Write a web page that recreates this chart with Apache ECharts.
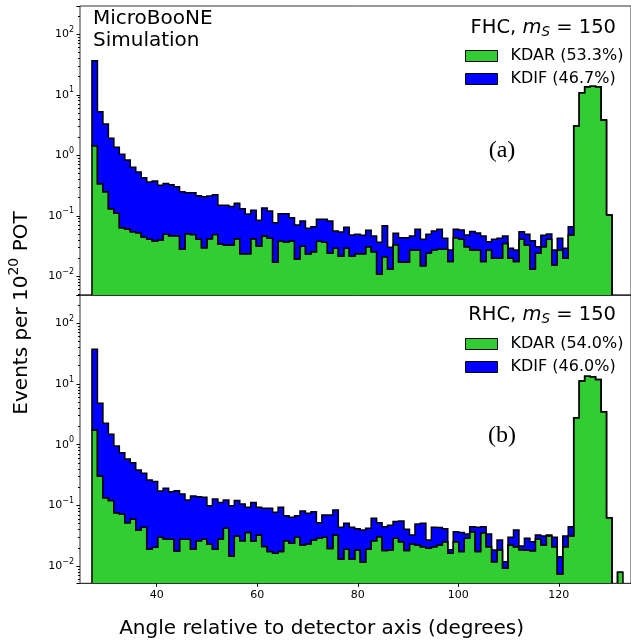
<!DOCTYPE html>
<html><head><meta charset="utf-8">
<script src="https://cdn.jsdelivr.net/npm/echarts@6/dist/echarts.min.js"></script>
<style>html,body{margin:0;padding:0;background:#fff}#c{width:631px;height:640px}</style>
</head><body><div id="c"></div>
<script>
// ---- data ----
const BIN_START = 27.12;   // degrees, left edge of first bin
const BIN_WIDTH = 1.089;   // degrees
const N_BINS = 97;
const xTicks = [40, 60, 80, 100, 120];
const fhcLabels = ['KDAR (53.3%)', 'KDIF (46.7%)'];
const rhcLabels = ['KDAR (54.0%)', 'KDIF (46.0%)'];

const fhcKDAR = [1.44,0.34,0.25,0.131,0.11,0.0635,0.0605,0.0546,0.0526,0.0447,
0.0408,0.0383,0.0398,0.0494,0.0469,0.0469,0.0279,0.0507,0.049,0.0408,
0.0297,0.0418,0.049,0.0342,0.0329,0.0329,0.0418,0.0237,0.0237,0.0418,
0.0317,0.0464,0.0425,0.017,0.0383,0.0369,0.0383,0.0193,0.0313,0.0234,
0.0255,0.038,0.0365,0.024,0.029,0.0214,0.029,0.0214,0.0237,0.0237,
0.0308,0.0255,0.0108,0.0211,0.0131,0.0333,0.0172,0.0172,0.0272,0.0272,
0.015,0.024,0.0272,0.0279,0.0279,0.0175,0.0435,0.041,0.0308,0.0272,
0.0272,0.0175,0.0272,0.0198,0.0198,0.035,0.0198,0.0175,0.0408,0.0329,
0.0131,0.024,0.0308,0.041,0.0154,0.0272,0.0198,0.0482,3.05,10.8,
13.6,13.9,13.6,3.83,0.103,0,0];
const fhcKDIF = [35.2,4.92,3.04,1.78,1.25,0.977,0.776,0.579,0.477,0.382,
0.321,0.338,0.279,0.291,0.280,0.256,0.222,0.190,0.192,0.174,
0.177,0.170,0.174,0.115,0.116,0.110,0.119,0.107,0.0833,0.0812,
0.0526,0.0886,0.0775,0.0599,0.0697,0.0711,0.0547,0.0512,0.0507,0.0387,
0.0405,0.0495,0.051,0.058,0.0271,0.0326,0.0355,0.0268,0.0257,0.0239,
0.0268,0.0209,0.0257,0.0476,0.017,0.0181,0.0263,0.0263,0.0192,0.0326,
0.0258,0.0254,0.0289,0.0319,0.0146,0.0097,0.0163,0.017,0.0174,0.0278,
0.0248,0.0289,0.0101,0.021,0.0227,0.0114,0.0092,0.0097,0.0139,0.0165,
0.0257,0.0068,0.0168,0.009,0.0118,0.0153,0.0092,0.0178,0,0,
0,0,0,0,0,0,0];
const rhcKDAR = [1.75,0.305,0.134,0.12,0.0759,0.0722,0.0519,0.0597,0.0394,0.0435,
0.0189,0.0204,0.0299,0.028,0.0277,0.0175,0.0277,0.0277,0.0189,0.0262,
0.0277,0.0229,0.0189,0.028,0.042,0.0147,0.0313,0.0262,0.0356,0.0258,
0.0325,0.021,0.0173,0.0163,0.0173,0.0262,0.0238,0.0299,0.0223,0.0231,
0.0269,0.0287,0.0299,0.0194,0.0325,0.0129,0.019,0.0129,0.0184,0.0117,
0.019,0.0262,0.0305,0.018,0.0184,0.0287,0.0252,0.018,0.0231,0.0223,
0.0209,0.0196,0.0209,0.0223,0.0252,0.0163,0.0252,0.0173,0.0287,0.0369,
0.0173,0.0355,0.0209,0.0118,0.0184,0.0092,0.0223,0.0209,0.0185,0.0184,
0.0179,0.0278,0.0223,0.0313,0.0209,0.0074,0.0209,0.0313,2.79,11.2,
13.4,13.2,11.9,3.5,0.0627,0,0.0079];
const rhcKDIF = [35.5,4.5,2.12,1.36,0.877,0.666,0.529,0.445,0.344,0.295,
0.243,0.226,0.143,0.163,0.140,0.156,0.126,0.0953,0.124,0.113,
0.108,0.076,0.108,0.083,0.081,0.0842,0.0887,0.0788,0.0574,0.0852,
0.0605,0.069,0.0722,0.0606,0.0757,0.0415,0.0399,0.0378,0.0586,0.051,
0.0518,0.0232,0.0396,0.0501,0.0514,0.0306,0.0317,0.0306,0.0229,0.0277,
0.023,0.035,0.0214,0.0266,0.0286,0.0253,0.0301,0.0224,0.0094,0.027,
0.0298,0.0073,0.0226,0.0207,0.0161,0.0022,0.0117,0.0183,0.0051,0.0077,
0.0262,0.0091,0.0129,0.0066,0.0085,0.0026,0.0076,0.0185,0.003,0.0103,
0.0073,0.0047,0.009,0.0012,0.009,0.0069,0.0104,0.0133,0,0,
0,0,0,0,0,0,0];

// ---- layout / style ----
const GREEN = '#32CD32', BLUE = '#0000FF';
const X_MIN = 24.74, X_MAX = 134.35;
const edges = [];
for (let i = 0; i <= N_BINS; i++) edges.push(BIN_START + i * BIN_WIDTH);

const panels = [
  { kdar: fhcKDAR, kdif: fhcKDIF, labels: fhcLabels, yMin: Math.pow(10, -2.309), yMax: Math.pow(10, 2.468), top: 6, height: 289, legendTop: 48 },
  { kdar: rhcKDAR, kdif: rhcKDIF, labels: rhcLabels, yMin: Math.pow(10, -2.284), yMax: Math.pow(10, 2.466), top: 295, height: 288.3, legendTop: 336 }
];

// empty bins drop far below the axis (as log-scale clipping does), then get clipped by the grid
function layerRender(base, add, yMin, color) {
  return function (params, api) {
    const lowAt = i => base ? base[i] : 0;
    const upAt = i => lowAt(i) + add[i];
    const c = v => (v > 0 ? v : yMin * 1e-3);
    const pts = [];
    for (let i = 0; i < N_BINS; i++) {
      pts.push(api.coord([edges[i], c(upAt(i))]));
      pts.push(api.coord([edges[i + 1], c(upAt(i))]));
    }
    for (let i = N_BINS - 1; i >= 0; i--) {
      pts.push(api.coord([edges[i + 1], c(lowAt(i))]));
      pts.push(api.coord([edges[i], c(lowAt(i))]));
    }
    return { type: 'polygon', shape: { points: pts },
      style: { fill: color, stroke: '#000', lineWidth: 1.5, lineJoin: 'miter' } };
  };
}

function fmtLog(v) {
  const e = Math.log10(v), r = Math.round(e);
  if (Math.abs(e - r) > 1e-6) return '';
  return '{b|10}{s|' + (r < 0 ? '\u2212' : '') + Math.abs(r) + '}';
}

const FONT = '"DejaVu Sans"';
const option = {
  animation: false,
  backgroundColor: '#fff',
  grid: panels.map(p => ({ left: 80, width: 553, top: p.top, height: p.height, show: true,
    borderColor: '#333', borderWidth: 1, backgroundColor: 'transparent', containLabel: false })),
  xAxis: panels.map((p, i) => ({
    gridIndex: i, type: 'value', min: X_MIN, max: X_MAX, z: 10,
    axisLine: { show: true, lineStyle: { color: '#333', width: 1 } }, splitLine: { show: false },
    axisTick: i === 1 ? { show: true, length: 3.5, customValues: xTicks, lineStyle: { color: '#000' } } : { show: false },
    axisLabel: i === 1 ? { show: true, customValues: xTicks, fontSize: 11, fontFamily: FONT, color: '#000', margin: 6 } : { show: false }
  })),
  yAxis: panels.map((p, i) => ({
    gridIndex: i, type: 'log', logBase: 10, min: p.yMin, max: p.yMax,
    axisLine: { show: false }, splitLine: { show: false },
    axisTick: { show: true, length: 3.5, lineStyle: { color: '#000' } },
    minorTick: { show: true, splitNumber: 9, length: 2, lineStyle: { color: '#000' } },
    axisLabel: { formatter: fmtLog, margin: 6, color: '#000',
      rich: { b: { fontSize: 11, fontFamily: FONT, color: '#000', lineHeight: 17 },
              s: { fontSize: 8, fontFamily: FONT, color: '#000', lineHeight: 8, verticalAlign: 'top' } } }
  })),
  legend: panels.map(p => ({
    data: p.labels, orient: 'vertical', left: 465, top: p.legendTop, padding: 0,
    itemWidth: 32, itemHeight: 11, itemGap: 7,
    icon: 'rect', selectedMode: false, itemStyle: { borderColor: '#000', borderWidth: 1 },
    textStyle: { fontSize: 16, fontFamily: FONT, color: '#000', padding: [0, 0, 0, 8] }
  })),
  series: panels.flatMap((p, i) => [
    { type: 'custom', name: p.labels[0], coordinateSystem: 'cartesian2d', xAxisIndex: i, yAxisIndex: i,
      itemStyle: { color: GREEN }, data: [[50, 1]], clip: true, silent: true, z: 2,
      renderItem: layerRender(null, p.kdar, p.yMin, GREEN) },
    { type: 'custom', name: p.labels[1], coordinateSystem: 'cartesian2d', xAxisIndex: i, yAxisIndex: i,
      itemStyle: { color: BLUE }, data: [[50, 1]], clip: true, silent: true, z: 3,
      renderItem: layerRender(p.kdar, p.kdif, p.yMin, BLUE) }
  ]),
  graphic: [
    { type: 'text', left: 93, top: 8, style: { text: 'MicroBooNE\nSimulation', font: '20px ' + FONT, fill: '#000', lineHeight: 22 } },
    { type: 'text', right: 15, top: 18, style: { text: '{a|FHC, }{m|m}{s|S}{a| = 150}',
      rich: { a: { fontSize: 19.5, fontFamily: FONT, fill: '#000', lineHeight: 22 },
              m: { fontSize: 19.5, fontFamily: FONT, fontStyle: 'italic', fill: '#000', lineHeight: 22 },
              s: { fontSize: 13.5, fontFamily: FONT, fontStyle: 'italic', fill: '#000', lineHeight: 13, verticalAlign: 'bottom' } } } },
    { type: 'text', right: 15, top: 305, style: { text: '{a|RHC, }{m|m}{s|S}{a| = 150}',
      rich: { a: { fontSize: 19.5, fontFamily: FONT, fill: '#000', lineHeight: 22 },
              m: { fontSize: 19.5, fontFamily: FONT, fontStyle: 'italic', fill: '#000', lineHeight: 22 },
              s: { fontSize: 13.5, fontFamily: FONT, fontStyle: 'italic', fill: '#000', lineHeight: 13, verticalAlign: 'bottom' } } } },
    { type: 'text', x: 502, y: 151, style: { text: '(a)', font: '24px "Liberation Serif"', fill: '#000', textAlign: 'center', textVerticalAlign: 'middle' } },
    { type: 'text', x: 502, y: 436, style: { text: '(b)', font: '24px "Liberation Serif"', fill: '#000', textAlign: 'center', textVerticalAlign: 'middle' } },
    { type: 'text', x: 321.6, y: 629, style: { text: 'Angle relative to detector axis (degrees)', font: '20px ' + FONT, fill: '#000', textAlign: 'center', textVerticalAlign: 'middle' } },
    { type: 'text', x: 22, y: 313, rotation: Math.PI / 2, style: { text: '{a|Events per 10}{s|20}{a| POT}', textAlign: 'center', textVerticalAlign: 'middle',
      rich: { a: { fontSize: 20, fontFamily: FONT, fill: '#000', lineHeight: 30 },
              s: { fontSize: 14, fontFamily: FONT, fill: '#000', lineHeight: 14, verticalAlign: 'top' } } } }
  ]
};
const chart = echarts.init(document.getElementById('c'), null, { renderer: 'canvas', width: 631, height: 640 });
chart.setOption(option);
</script>
</body></html>
